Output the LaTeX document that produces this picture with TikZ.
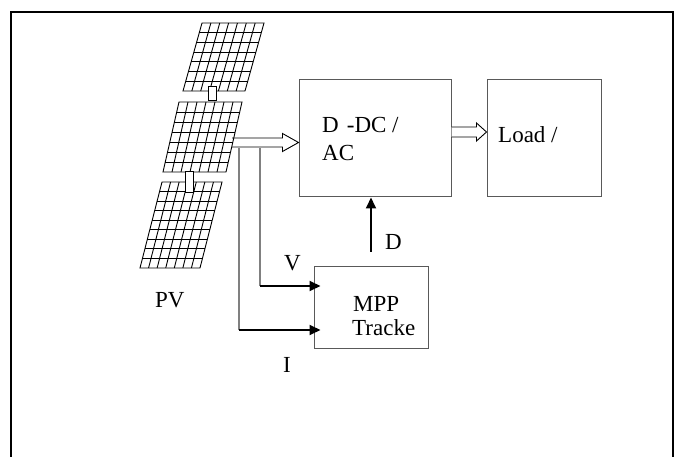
\documentclass[tikz,border=0pt]{standalone}
\usepackage{fontspec}
\setmainfont{Liberation Serif}
\usetikzlibrary{arrows.meta,calc}
\newcommand\solarpanel[6]{%
  \draw[cell] (#1,#2) -- ++(#3,0) -- ++(#5,-#4) -- ++(-#3,0) -- cycle;
  \foreach \i in {1,...,6} \draw[cell] ({#1+\i*#3/7},#2) -- ++(#5,-#4);
  \pgfmathtruncatemacro\lastrow{#6-1}
  \foreach \j in {1,...,\lastrow} \draw[cell] ({#1+\j*#5/#6},{#2-\j*#4/#6}) -- ++(#3,0);
}
\begin{document}
\begin{tikzpicture}[x=1pt,y=-1pt,
  box/.style={draw=black!65, line width=1pt, inner sep=0pt},
  lbl/.style={font=\fontsize{23}{27}\selectfont, inner sep=0pt, anchor=base west},
  feed/.style={draw=black!50, line width=1.1pt},
  sig/.style={line width=1.8pt, -{Triangle[length=11pt,width=10pt]}},
  hollow/.style={draw=black, line width=0.9pt, fill=white},
  cell/.style={line width=0.9pt}]
\useasboundingbox (0,0) rectangle (675,457);
% frame
\draw[line width=1.6pt] (11,457) -- (11,12) -- (673,12) -- (673,457);
% boxes
\node[box, minimum width=152pt, minimum height=117pt] (dc) at (375,138.5) {};
\node[box, minimum width=114pt, minimum height=117pt] (load) at (544,138.5) {};
\node[box, minimum width=114pt, minimum height=81pt] (mpp) at (371,307.5) {};
% box texts
\node[lbl] (dct1) at (322,133) {D\hspace{0.35em}-DC /};
\node[lbl] (dct2) at (322,160.5) {AC};
\node[lbl] (loadt) at (498,143) {Load /};
\node[lbl] (mppt1) at (353,312) {MPP};
\node[lbl] (mppt2) at (352,335.5) {Tracke};
% labels
\node[lbl] (pvl) at (155,308) {PV};
\node[lbl] (vl) at (284,271) {V};
\node[lbl] (il) at (283,372) {I};
\node[lbl] (dl) at (385,250) {D};
% hollow arrow PV -> DC
\coordinate (pvout) at (232,142.5);
\coordinate (tip1) at (dc.west |- pvout);
\draw[hollow] ($(pvout)+(0,-4.5)$) -- ($(tip1)+(-16,-4.5)$) -- ($(tip1)+(-16,-9)$) -- (tip1)
  -- ($(tip1)+(-16,9)$) -- ($(tip1)+(-16,4.5)$) -- ($(pvout)+(0,4.5)$);
% hollow arrow DC -> Load
\coordinate (dcout) at ($(dc.east)+(0,-6.5)$);
\coordinate (tip2) at (load.west |- dcout);
\draw[hollow] ($(dcout)+(0,-5)$) -- ($(tip2)+(-10,-5)$) -- ($(tip2)+(-10,-9)$) -- (tip2)
  -- ($(tip2)+(-10,9)$) -- ($(tip2)+(-10,5)$) -- ($(dcout)+(0,5)$);
% solar panels
\solarpanel{183}{91}{62}{68}{19}{7}
\solarpanel{163}{172}{63}{70}{16}{7}
\solarpanel{140}{268}{60}{86}{22}{9}
\draw[cell, fill=white] (208,86) rectangle (216,100);
\draw[cell, fill=white] (185,171) rectangle (193,192);
% measurement lines
\coordinate (vtop) at (260,148);
\coordinate (vcorner) at (260,286);
\coordinate (itop) at (239,148);
\coordinate (icorner) at (239,330);
\coordinate (vtip) at ($(mpp.west |- vcorner)+(7,0)$);
\coordinate (itip) at ($(mpp.west |- icorner)+(7,0)$);
\draw[feed] (vtop) -- (vcorner);
\draw[feed] (itop) -- (icorner);
\draw[sig] (vcorner) -- (vtip);
\draw[sig] (icorner) -- (itip);
% duty cycle
\coordinate (dsrc) at (371,252);
\draw[sig] (dsrc) -- (dsrc |- dc.south);
\end{tikzpicture}
\end{document}
